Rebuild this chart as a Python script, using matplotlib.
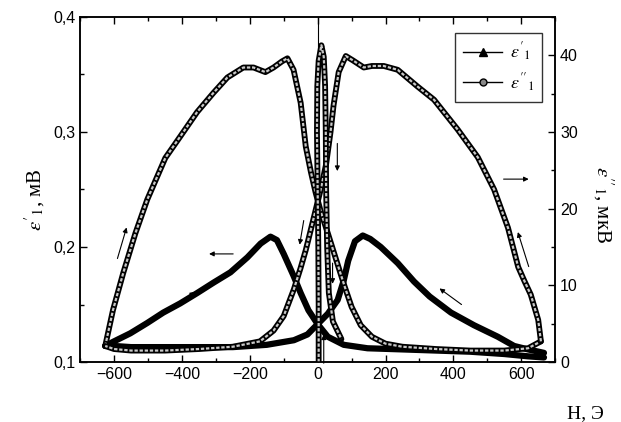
import matplotlib
matplotlib.use('Agg')
from matplotlib import pyplot as plt
from matplotlib.lines import Line2D
from matplotlib.ticker import MultipleLocator, FuncFormatter

plt.rcParams['font.family'] = ['Liberation Sans', 'DejaVu Sans']
plt.rcParams['mathtext.fontset'] = 'stix'

# eps'_1 (left axis, mV) - field sweep up / sweep down
h_e1_up = [-626, -600, -552, -502, -455, -405, -355, -307, -257, -207, -168, -139, -120, -100,
           -71, -50, -27, 0, 30, 77, 147, 250, 350, 450, 550, 620, 667]
e1_up = [0.114, 0.118, 0.125, 0.134, 0.143, 0.151, 0.160, 0.169, 0.178, 0.191, 0.203, 0.209, 0.206, 0.194,
         0.175, 0.160, 0.145, 0.133, 0.122, 0.115, 0.112, 0.111, 0.110, 0.109, 0.107, 0.105, 0.104]
h_e1_dn = [667, 620, 579, 531, 461, 393, 330, 284, 236, 186, 155, 133, 110, 90, 77, 59, 30, 0,
           -30, -70, -110, -150, -250, -350, -450, -550, -600, -626]
e1_dn = [0.108, 0.111, 0.114, 0.122, 0.132, 0.143, 0.157, 0.170, 0.186, 0.200, 0.207, 0.210, 0.205, 0.188,
         0.171, 0.154, 0.142, 0.133, 0.124, 0.119, 0.117, 0.115, 0.113, 0.113, 0.113, 0.113, 0.114, 0.114]

# eps''_1 (right axis, uV)
h_e2_up = [-626, -603, -573, -537, -502, -449, -405, -355, -307, -266, -219, -189, -154, -130, -105, -89,
           -71, -50, -35, -20, -6, 10, 30, 62, 80, 100, 127, 160, 200, 250, 350, 450, 550, 620, 658]
e2_up = [2.1, 6.8, 11.6, 16.8, 21.2, 26.6, 29.4, 32.6, 35.1, 37.1, 38.4, 38.4, 37.8, 38.4, 39.2, 39.6,
         38.1, 33.8, 28.1, 24.8, 22.1, 19.5, 16.8, 12.3, 9.8, 7.2, 4.8, 3.3, 2.4, 2.0, 1.7, 1.5, 1.5, 1.8, 2.7]
h_e2_dn = [658, 650, 628, 610, 591, 561, 520, 472, 413, 343, 295, 236, 195, 160, 136, 105, 83, 62, 47, 38,
           25, 9, -6, -21, -35, -50, -70, -100, -130, -170, -250, -350, -450, -550, -600, -626]
e2_dn = [2.7, 5.5, 8.8, 10.5, 12.4, 17.5, 22.5, 26.7, 30.3, 34.2, 35.9, 38.1, 38.6, 38.6, 38.4, 39.3, 39.9,
         37.8, 33.5, 30.0, 25.8, 22.5, 19.8, 17.1, 14.6, 12.3, 9.5, 6.0, 4.1, 2.7, 2.0, 1.7, 1.5, 1.5, 1.7, 2.1]
# narrow peak near H = 0
h_e2_pk = [3, 3, 2, 0, -2, -1, 3, 11, 18, 22, 24, 25, 28, 33, 45, 70]
e2_pk = [0.0, 7.5, 15.0, 22.5, 30.0, 36.0, 39.3, 41.3, 39.8, 36.0, 30.0, 22.5, 15.0, 9.0, 5.3, 3.0]

# arrows (tail H, tail eps', head H, head eps')
arrows = [(-590, 0.190, -563, 0.217), (-249, 0.194, -320, 0.194), (-430, 0.147, -361, 0.161),
          (548, 0.259, 622, 0.259), (622, 0.183, 590, 0.213), (424, 0.150, 359, 0.164),
          (58, 0.290, 58, 0.266), (44, 0.186, 44, 0.168), (-41, 0.223, -53, 0.202),
          (18, 0.099, 18, 0.124)]


fig = plt.figure(figsize=(6.21, 4.22), dpi=100)
ax = fig.add_axes([0.129, 0.142, 0.765, 0.818])
ax2 = ax.twinx()

ax.axvline(0, color='k', lw=0.8, zorder=1)

ax.plot(h_e1_up, e1_up, color='k', lw=4.5, solid_capstyle='round', zorder=3)
ax.plot(h_e1_dn, e1_dn, color='k', lw=4.5, solid_capstyle='round', zorder=3)

for hh, ee in [(h_e2_up, e2_up), (h_e2_dn, e2_dn), (h_e2_pk, e2_pk)]:
	ax2.plot(hh, ee, color='k', lw=4.2, solid_capstyle='round')
	ax2.plot(hh, ee, color='#c8c8c8', lw=1.6, ls=(0, (1.5, 0.8)))

for x0, y0, x1, y1 in arrows:
	ax.annotate('', xy=(x1, y1), xytext=(x0, y0),
				arrowprops=dict(arrowstyle='-|>', lw=0.8, color='k', mutation_scale=7, shrinkA=0, shrinkB=0))

ax.set_xlim(-700, 700)
ax.set_ylim(0.1, 0.4)
ax2.set_ylim(0, 45)

ax.xaxis.set_major_locator(MultipleLocator(200))
ax.xaxis.set_minor_locator(MultipleLocator(100))
ax.yaxis.set_major_locator(MultipleLocator(0.1))
ax.yaxis.set_minor_locator(MultipleLocator(0.05))
ax.yaxis.set_major_formatter(FuncFormatter(lambda v, p: ('%.1f' % v).replace('.', ',')))
ax2.yaxis.set_major_locator(MultipleLocator(10))
ax2.yaxis.set_minor_locator(MultipleLocator(5))

ax.tick_params(which='both', direction='in', top=True, labelsize=11.5, width=1)
ax.tick_params(axis='y', which='both', right=False)
ax.tick_params(which='major', length=5)
ax.tick_params(which='minor', length=3)
ax2.tick_params(which='both', direction='in', labelsize=11.5, width=1)
ax2.tick_params(which='major', length=5)
ax2.tick_params(which='minor', length=3)
for a in (ax, ax2):
	for s in a.spines.values():
		s.set_linewidth(1.1)

serif = ['Liberation Serif', 'DejaVu Serif']
ax.set_ylabel("$\\varepsilon'_1$, мВ", family=serif, fontsize=15, va='center')
ax.yaxis.set_label_coords(-0.095, 0.47)
ax2.set_ylabel("$\\varepsilon''_1$, мкВ", family=serif, fontsize=15, rotation=270, va='center')
ax2.yaxis.set_label_coords(1.1, 0.455)
ax.set_xlabel('Н, Э', family=serif, fontsize=14)
ax.xaxis.set_label_coords(1.063, -0.125)

handles = [Line2D([], [], color='k', lw=1, marker='^', ms=6, mfc='k'),
		   Line2D([], [], color='k', lw=1, marker='o', ms=5, mfc='#888888', mec='k')]
leg = ax2.legend(handles, ["$\\varepsilon'_1$", "$\\varepsilon''_1$"], loc='upper right',
				 bbox_to_anchor=(0.973, 0.954), borderaxespad=0, fancybox=False,
				 edgecolor='k', fontsize=13, handlelength=2.2, labelspacing=0.45,
				 borderpad=0.45, handletextpad=0.4)
leg.get_frame().set_linewidth(1)

fig.savefig('out.png', dpi=100)
